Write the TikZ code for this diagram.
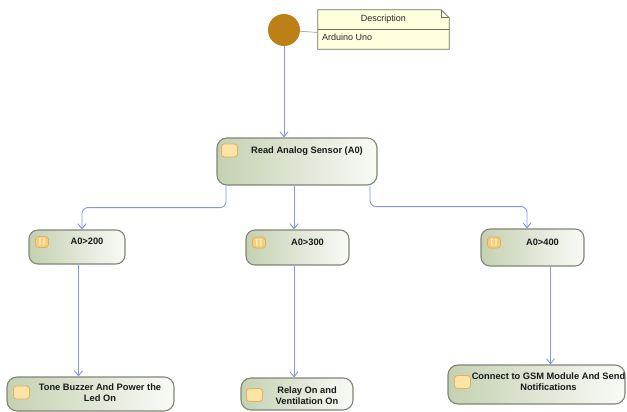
\documentclass[tikz,border=0pt]{standalone}
\usepackage{fontspec}
\setmainfont{Liberation Sans}
\usetikzlibrary{arrows.meta, positioning, calc}
\definecolor{flowblue}{RGB}{128, 150, 230}
\definecolor{actedge}{RGB}{130, 132, 118}
\definecolor{actfill}{RGB}{196, 209, 177}
\definecolor{iconfill}{RGB}{252, 228, 166}
\definecolor{guardfill}{RGB}{247, 205, 120}
\definecolor{iconedge}{RGB}{226, 176, 92}
\definecolor{notefill}{RGB}{255, 255, 221}
\definecolor{noteedge}{RGB}{110, 110, 100}
\definecolor{startbrown}{RGB}{188, 128, 22}

\tikzset{
  action/.style={draw=actedge, line width=1.1pt, rounded corners=10pt, left color=actfill, right color=white!90!actfill, inner sep=0pt},
  acttext/.style={font=\fontsize{9.3}{11.5}\selectfont\bfseries, text=black!90, align=center, inner sep=0pt},
  icon/.style={draw=iconedge, fill=iconfill, line width=0.8pt, rounded corners=3pt, minimum width=16pt, minimum height=13pt, inner sep=0pt},
  guard/.style={icon, fill=guardfill, minimum width=13pt, minimum height=11pt, font=\fontsize{7}{7}\selectfont\bfseries, text=white},
  notetext/.style={font=\fontsize{9}{11}\selectfont, text=black!85, inner sep=0pt},
  flow/.style={draw=flowblue, line width=0.9pt, rounded corners=6pt, -{Straight Barb[length=5pt, width=8pt]}},
  notelink/.style={draw=gray!70, line width=0.7pt}
}

\begin{document}
\begin{tikzpicture}[x=1pt, y=-1pt]
  \useasboundingbox (0,0) rectangle (627,412);

  % start and description note
  \node[circle, fill=startbrown, minimum size=32pt, inner sep=0pt] (start) at (284,30) {};
  \node[minimum width=131pt, minimum height=39pt, inner sep=0pt] (note) at (383.5,29.5) {};
  \draw[draw=noteedge, fill=notefill, line width=0.8pt] (note.north west) -- ([xshift=-8pt]note.north east) -- ([yshift=-8pt]note.north east) -- (note.south east) -- (note.south west) -- cycle;
  \draw[draw=noteedge, line width=0.6pt] ([xshift=-8pt]note.north east) -- ++(0,8) -- ++(8,0);
  \draw[draw=noteedge, line width=0.6pt] (note.west) -- (note.east);
  \node[notetext] (notetitle) at ([yshift=10pt]note.center) {Description};
  \node[notetext, anchor=west] (notebody) at ([xshift=4pt,yshift=-7.5pt]note.west) {Arduino Uno};
  \draw[notelink] (start) -- ([yshift=-3pt]note.west);

  % read sensor
  \node[action, minimum width=160pt, minimum height=47pt] (read) at (297,161.5) {};
  \node[icon] (readicon) at ([xshift=13pt,yshift=-13pt]read.north west) {};
  \node[acttext] (readtxt) at ([xshift=10pt,yshift=-14pt]read.north) {Read Analog Sensor (A0)};

  % thresholds
  \node[action, rounded corners=9pt, minimum width=96pt, minimum height=34pt] (c200) at (77,247) {};
  \node[action, rounded corners=9pt, minimum width=103pt, minimum height=35pt] (c300) at (297.5,247.5) {};
  \node[action, rounded corners=9pt, minimum width=103pt, minimum height=37pt] (c400) at (532.5,247.5) {};
  \foreach \c/\v in {c200/200, c300/300, c400/400} {
    \node[guard] (\c icon) at ([xshift=13.5pt,yshift=5pt]\c.west) {[\,]};
    \node[acttext] (\c txt) at ([xshift=10pt,yshift=5.5pt]\c.center) {A0>\v};
  }

  % actions
  \node[action, minimum width=167pt, minimum height=34pt] (tone) at (90.5,394) {};
  \node[action, minimum width=112pt, minimum height=32pt] (relay) at (297,394) {};
  \node[action, minimum width=177pt, minimum height=39pt] (gsm) at (536.5,384.5) {};
  \node[icon] (toneicon) at ([xshift=15pt,yshift=1.5pt]tone.west) {};
  \node[icon] (relayicon) at ([xshift=14pt,yshift=-1pt]relay.west) {};
  \node[icon] (gsmicon) at ([xshift=15pt,yshift=2.5pt]gsm.west) {};
  \node[acttext] (tonetxt) at ([xshift=9.5pt,yshift=1.5pt]tone.center) {Tone Buzzer And Power the\\Led On};
  \node[acttext] (relaytxt) at ([xshift=10pt,yshift=-1.5pt]relay.center) {Relay On and\\Ventilation On};
  \node[acttext] (gsmtxt) at ([xshift=12pt,yshift=3pt]gsm.center) {Connect to GSM Module And Send\\Notifications};

  % control flow
  \draw[flow] (start) -- (start |- read.north);
  \draw[flow] ([xshift=-71pt]read.south) -- ++(0,22) -| ([xshift=5pt]c200.north);
  \draw[flow] ([xshift=-3pt]read.south) -- ([xshift=-3.5pt]c300.north);
  \draw[flow] ([xshift=73pt]read.south) -- ++(0,21) -| ([xshift=-5.5pt]c400.north);
  \draw[flow] ([xshift=1.5pt]c200.south) -- ([xshift=1.5pt]c200.south |- tone.north);
  \draw[flow] ([xshift=-3.5pt]c300.south) -- ([xshift=-3.5pt]c300.south |- relay.north);
  \draw[flow] ([xshift=18pt]c400.south) -- ([xshift=18pt]c400.south |- gsm.north);
\end{tikzpicture}
\end{document}
